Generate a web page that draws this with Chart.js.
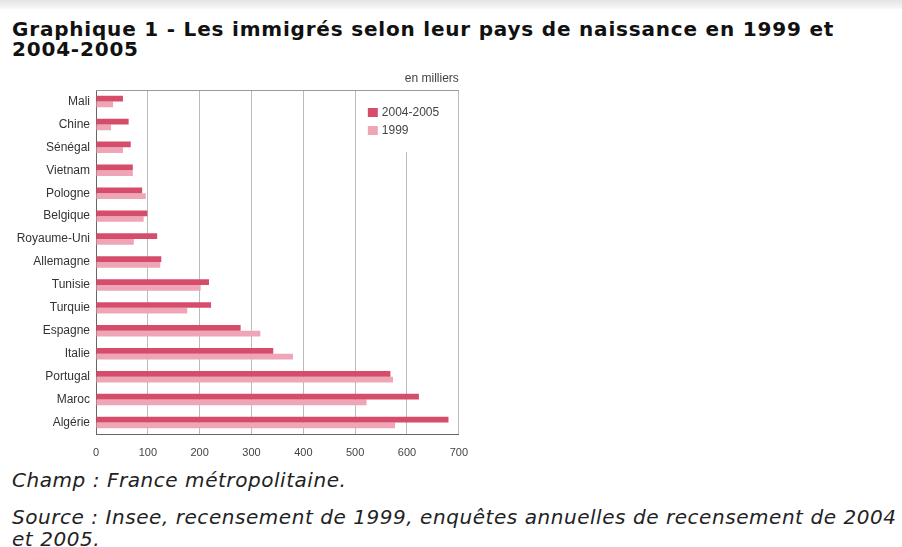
<!DOCTYPE html>
<html>
<head>
<meta charset="utf-8">
<script src="https://cdn.jsdelivr.net/npm/chart.js@4"></script>
<style>
body{margin:0;width:902px;height:547px;background:#fff;position:relative;overflow:hidden;font-family:"DejaVu Sans",Verdana,sans-serif;color:#111}
#band{position:absolute;left:0;top:0;width:902px;height:9px;background:linear-gradient(#e4e4e4,#f9f9f9)}
#titre{position:absolute;left:12px;top:19px;font-weight:bold;font-size:20px;line-height:20px;letter-spacing:0.8px;white-space:nowrap}
#wrap{position:absolute;left:0;top:62px}
.note{position:absolute;left:12px;font-style:italic;font-size:20px;line-height:22px;letter-spacing:0.55px;color:#222;white-space:nowrap}
</style>
</head>
<body>
<div id="band"></div>
<div id="titre">Graphique 1 - Les immigrés selon leur pays de naissance en 1999 et<br>2004-2005</div>
<div id="wrap"><canvas id="graph" width="480" height="400"></canvas></div>
<div class="note" style="top:469px">Champ : France métropolitaine.</div>
<div class="note" style="top:506px">Source : Insee, recensement de 1999, enquêtes annuelles de recensement de 2004<br>et 2005.</div>
<script>
// en milliers
const pays = ['Mali', 'Chine', 'Sénégal', 'Vietnam', 'Pologne', 'Belgique', 'Royaume-Uni', 'Allemagne', 'Tunisie', 'Turquie', 'Espagne', 'Italie', 'Portugal', 'Maroc', 'Algérie']
const v2004 = [52, 63, 67, 71, 89, 99, 118, 126, 218, 222, 279, 342, 568, 623, 680]
const v1999 = [33, 29, 52, 71, 96, 92, 73, 124, 202, 176, 317, 380, 573, 522, 577]
const graduations = [0, 100, 200, 300, 400, 500, 600, 700]

const police = '"Liberation Sans", Arial, sans-serif'

// cadre du haut, legende sur fond blanc et "en milliers"
const cadre = {
  id: 'cadre',
  beforeDatasetsDraw(chart) {
    const ctx = chart.ctx
    const a = chart.chartArea
    ctx.save()
    ctx.fillStyle = '#fff'
    ctx.fillRect(a.right - 97, a.top + 1, 96, 61)
    ctx.strokeStyle = '#999'
    ctx.lineWidth = 1
    ctx.beginPath()
    ctx.moveTo(a.left, a.top + 0.5)
    ctx.lineTo(a.right, a.top + 0.5)
    ctx.stroke()

    ctx.font = '12px ' + police
    ctx.textBaseline = 'middle'
    chart.data.datasets.forEach(function(ds, i) {
      const y = a.top + 18 + i * 18
      ctx.fillStyle = ds.backgroundColor
      ctx.fillRect(a.right - 91, y, 10, 9)
      ctx.fillStyle = '#444'
      ctx.textAlign = 'left'
      ctx.fillText(ds.label, a.right - 77, y + 5)
    })
    ctx.textAlign = 'right'
    ctx.fillStyle = '#444'
    ctx.fillText('en milliers', a.right, a.top - 11)
    ctx.restore()
  }
}

const chartInstance = new Chart(document.getElementById('graph'), {
  type: 'bar',
  data: {
    labels: pays,
    datasets: [{
      label: '2004-2005',
      data: v2004,
      backgroundColor: '#d64d6c',
      categoryPercentage: 0.5,
      barPercentage: 1
    }, {
      label: '1999',
      data: v1999,
      backgroundColor: '#eea5b5',
      categoryPercentage: 0.5,
      barPercentage: 1
    }]
  },
  options: {
    indexAxis: 'y',
    responsive: false,
    animation: false,
    layout: { padding: { top: 28, right: 18, left: 0, bottom: 0 } },
    plugins: {
      legend: { display: false },
      title: { display: false },
      tooltip: { enabled: false }
    },
    scales: {
      x: {
        min: 0,
        max: 700,
        afterBuildTicks: function(scale) {
          scale.ticks = graduations.map(v => ({ value: v }))
        },
        afterFit: function(scale) { scale.height = 28 },
        grid: { color: '#bbb', drawTicks: false },
        border: { color: '#666' },
        ticks: { padding: 12, color: '#444', font: { family: police, size: 11 } }
      },
      y: {
        afterFit: function(scale) { scale.width = 96 },
        grid: { display: false, drawTicks: false },
        border: { color: '#666' },
        ticks: { padding: 6, color: '#333', font: { family: police, size: 12 } }
      }
    }
  },
  plugins: [cadre]
})
</script>
</body>
</html>
